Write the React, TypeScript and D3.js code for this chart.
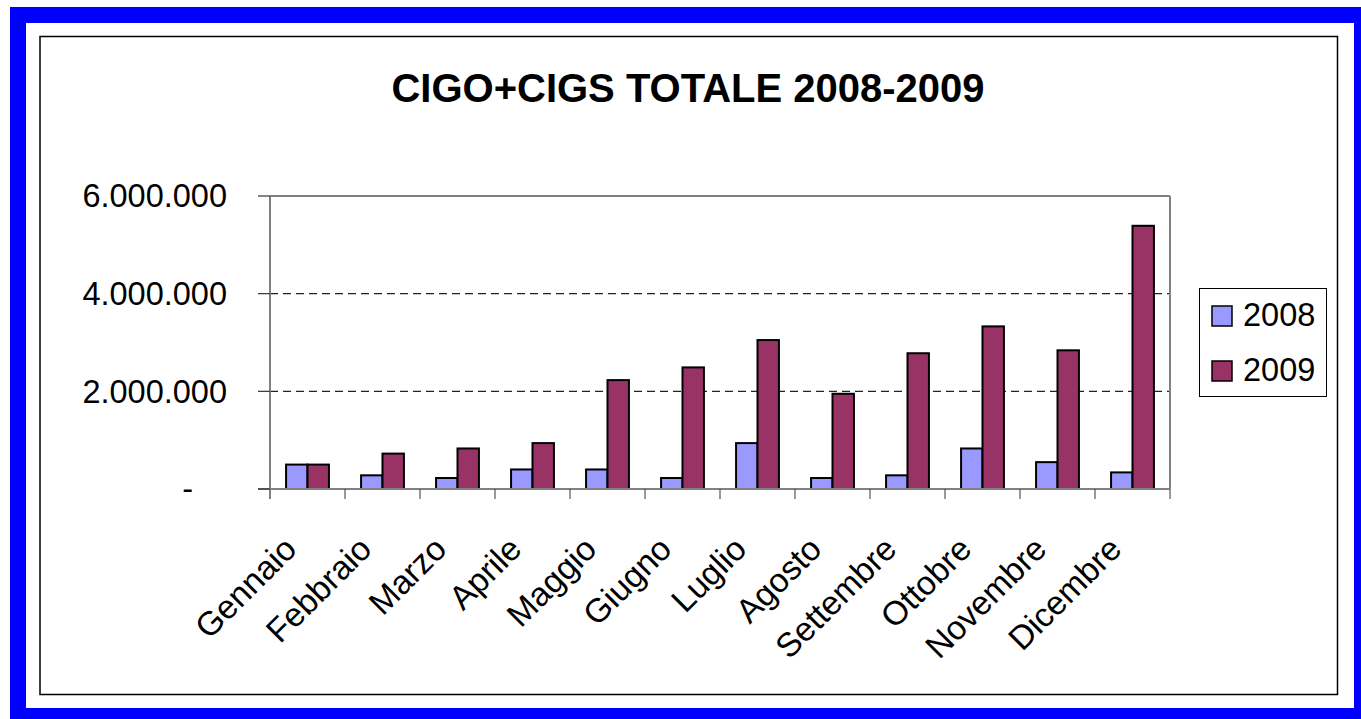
import React from "react";
import * as d3 from "d3";

const months = ["Gennaio","Febbraio","Marzo","Aprile","Maggio","Giugno","Luglio","Agosto","Settembre","Ottobre","Novembre","Dicembre"];
const series2008 = [500000, 280000, 225000, 400000, 400000, 225000, 940000, 225000, 280000, 830000, 550000, 340000];
const series2009 = [500000, 725000, 830000, 940000, 2230000, 2490000, 3050000, 1950000, 2780000, 3330000, 2840000, 5390000];
const seriesNames = ["2008", "2009"];
const seriesColors = ["#9999FF", "#993366"];
const yTicks = [0, 2000000, 4000000, 6000000];
const yTickLabels = ["-", "2.000.000", "4.000.000", "6.000.000"];
const title = "CIGO+CIGS TOTALE 2008-2009";

export default function App() {
  const W = 1361, H = 719;
  const left = 270, right = 1170, top = 196, bottom = 489;
  const x = d3.scaleBand<string>().domain(months).range([left, right]).paddingInner(0).paddingOuter(0);
  // Excel gap width 150% -> 0.75 bar of padding on each side of the pair
  const inner = d3.scaleBand<string>().domain(seriesNames).range([0, x.bandwidth()]).paddingInner(0).paddingOuter(0.75);
  const y = d3.scaleLinear().domain([0, 6000000]).range([bottom, top]);
  const font = "'Liberation Sans', Arial, sans-serif";
  const data = [series2008, series2009];

  return (
    <svg width={W} height={H} style={{ position: "absolute", left: 0, top: 0, background: "#fff" }}>
      <rect x={18} y={15} width={1344} height={701} fill="#fff" stroke="#0000FF" strokeWidth={16} />
      <rect x={40} y={36.5} width={1297.5} height={658} fill="#fff" stroke="#000" strokeWidth={1.5} />
      <text x={688} y={102} textAnchor="middle" fontFamily={font} fontWeight="bold" fontSize={40}>{title}</text>

      {yTicks.filter(t => t !== 0 && t !== 6000000).map(t => (
        <line key={"g" + t} x1={left} x2={right} y1={y(t)} y2={y(t)} stroke="#222" strokeWidth={1.2} strokeDasharray="8,5" />
      ))}
      <line x1={left} x2={right} y1={top} y2={top} stroke="#808080" strokeWidth={2} />
      <line x1={right} x2={right} y1={top} y2={bottom} stroke="#808080" strokeWidth={2} />

      {data.map((vals, si) => (
        <g key={si}>
          {vals.map((v, i) => (
            <rect key={i}
              x={(x(months[i]) as number) + (inner(seriesNames[si]) as number)}
              y={y(v)}
              width={inner.bandwidth()}
              height={bottom - y(v)}
              fill={seriesColors[si]}
              stroke="#000" strokeWidth={2} />
          ))}
        </g>
      ))}

      <line x1={left} x2={left} y1={top} y2={bottom + 10} stroke="#808080" strokeWidth={2} />
      <line x1={left - 12} x2={right} y1={bottom} y2={bottom} stroke="#808080" strokeWidth={2} />
      {yTicks.map((t, i) => (
        <g key={"yt" + t}>
          <line x1={left - 12} x2={left} y1={y(t)} y2={y(t)} stroke="#333" strokeWidth={1.2} />
          <text x={t === 0 ? 193 : 227} y={y(t)} dy="0.35em" textAnchor="end" fontFamily={font} fontSize={32.5}>{yTickLabels[i]}</text>
        </g>
      ))}
      {months.map(m => (
        <line key={"xt" + m} x1={(x(m) as number) + x.bandwidth()} x2={(x(m) as number) + x.bandwidth()} y1={bottom} y2={bottom + 10} stroke="#555" strokeWidth={1.2} />
      ))}
      {months.map(m => {
        const cx = (x(m) as number) + x.bandwidth() / 2 - 9;
        return (
          <text key={"xl" + m} transform={`translate(${cx},551) rotate(-45)`} textAnchor="end" fontFamily={font} fontSize={33.5}>{m}</text>
        );
      })}

      <rect x={1199.5} y={288.5} width={127} height={108} fill="#fff" stroke="#000" strokeWidth={1} />
      {seriesNames.map((s, i) => (
        <g key={"lg" + s}>
          <rect x={1212} y={306 + i * 55} width={20} height={20} fill={seriesColors[i]} stroke="#000" strokeWidth={1.5} />
          <text x={1243} y={326 + i * 54.5} fontFamily={font} fontSize={32.5}>{s}</text>
        </g>
      ))}
    </svg>
  );
}
